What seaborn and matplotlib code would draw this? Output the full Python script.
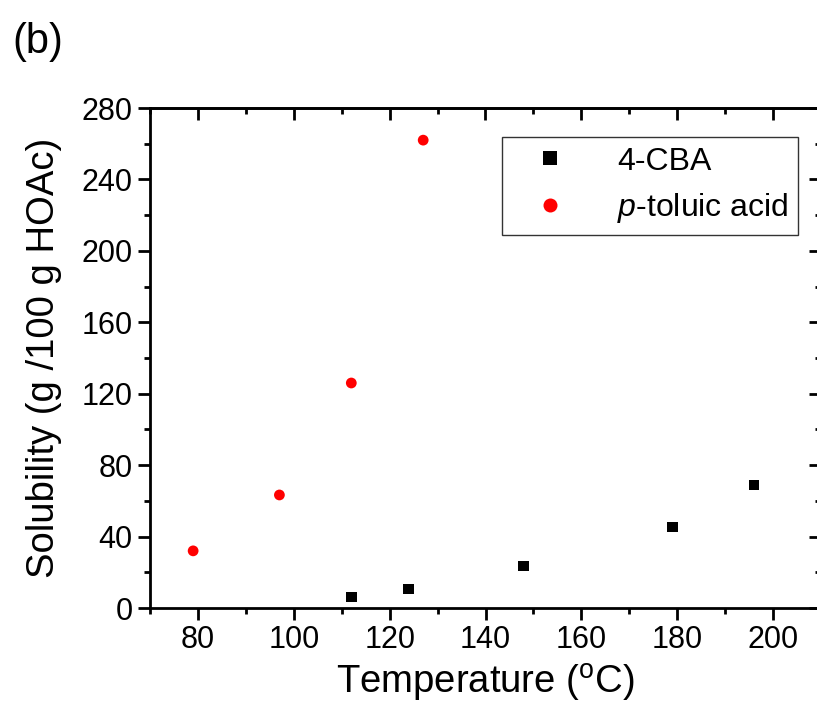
import matplotlib
matplotlib.use("Agg")
import matplotlib.pyplot as plt
import seaborn as sns
import pandas as pd
from matplotlib.ticker import MultipleLocator

# Dati
temp_cba = [112, 124, 148, 179, 196]
sol_cba = [6.2, 10.6, 23.5, 45.4, 68.9]
temp_tol = [79, 97, 112, 127]
sol_tol = [32, 63.3, 126, 262]
label_cba = "4-CBA"
label_tol = "$p$-toluic acid"

df = pd.DataFrame({
    "temp": temp_cba + temp_tol,
    "sol": sol_cba + sol_tol,
    "compound": [label_cba] * len(temp_cba) + [label_tol] * len(temp_tol),
})

sns.set_style("ticks")
plt.rcParams["font.family"] = ["Liberation Sans", "DejaVu Sans"]
plt.rcParams["mathtext.fontset"] = "custom"
plt.rcParams["mathtext.rm"] = "Liberation Sans"
plt.rcParams["mathtext.it"] = "Liberation Sans:italic"
plt.rcParams["text.color"] = "black"
plt.rcParams["axes.labelcolor"] = "black"
plt.rcParams["xtick.color"] = "black"
plt.rcParams["ytick.color"] = "black"

fig = plt.figure(figsize=(8.17, 7.09), dpi=100)
ax = fig.add_axes([150 / 817, 101 / 709, 671 / 817, 500 / 709])

sns.scatterplot(data=df, x="temp", y="sol", hue="compound", style="compound",
                palette={label_cba: "black", label_tol: "red"},
                markers={label_cba: "s", label_tol: "o"},
                s=60, linewidth=0, ax=ax)

ax.set_xlim(70, 210)
ax.set_ylim(0, 280)
ax.xaxis.set_major_locator(MultipleLocator(20))
ax.xaxis.set_minor_locator(MultipleLocator(10))
ax.yaxis.set_major_locator(MultipleLocator(40))
ax.yaxis.set_minor_locator(MultipleLocator(20))

for s in ax.spines.values():
    s.set_visible(True)
    s.set_linewidth(2)
    s.set_color("black")

ax.tick_params(axis="both", which="major", direction="out", length=8.5, width=2,
               labelsize=22, pad=4, color="black", labelcolor="black")
ax.tick_params(axis="both", which="minor", direction="out", length=4.5, width=2, color="black")
# tacche interne su alto e destra tramite assi secondari
top = ax.secondary_xaxis("top")
top.xaxis.set_major_locator(MultipleLocator(20))
top.xaxis.set_minor_locator(MultipleLocator(10))
top.tick_params(which="major", direction="in", length=8.5, width=2, labeltop=False)
top.tick_params(which="minor", direction="in", length=4.5, width=2)
top.spines["top"].set_linewidth(2)
right = ax.secondary_yaxis("right")
right.yaxis.set_major_locator(MultipleLocator(40))
right.yaxis.set_minor_locator(MultipleLocator(20))
right.tick_params(which="major", direction="in", length=8.5, width=2, labelright=False)
right.tick_params(which="minor", direction="in", length=4.5, width=2)
right.spines["right"].set_linewidth(2)

ax.set_xlabel("Temperature ($^{\\mathrm{o}}$C)", fontsize=27.5, labelpad=5)
ax.set_ylabel("Solubility (g /100 g HOAc)", fontsize=27.5, labelpad=14)

leg = ax.legend(loc="upper left", bbox_to_anchor=(352 / 671, 1 - 29 / 500),
                fontsize=23, frameon=True, fancybox=False, borderpad=0.3,
                handlelength=2.4, handletextpad=0.9, labelspacing=0.45,
                markerscale=1.3, borderaxespad=0)
leg.get_frame().set_edgecolor("black")
leg.get_frame().set_linewidth(1)
leg.set_title(None)

fig.text(12 / 817, 1 - 42 / 709, "(b)", fontsize=30, va="center", ha="left")

fig.savefig("out.png", dpi=100)
